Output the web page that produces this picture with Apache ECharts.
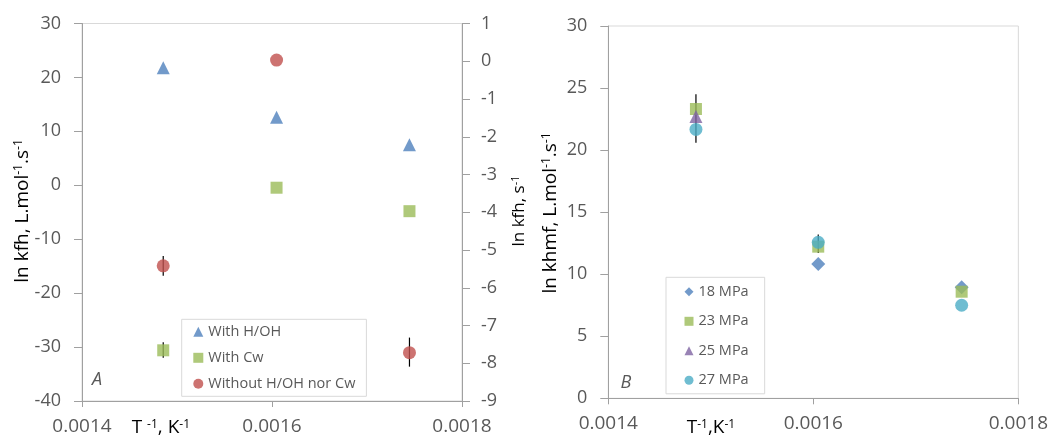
<!DOCTYPE html>
<html><head><meta charset="utf-8">
<script src="https://cdn.jsdelivr.net/npm/echarts@6/dist/echarts.min.js"></script>
<style>html,body{margin:0;padding:0;background:#fff}#c{width:1051px;height:439px}</style>
</head><body><div id="c"></div>
<script>
// ---- shared x values (1/T, K^-1) ----
const xInvT = [0.0014855, 0.0016048, 0.0017447];
const xTicks = [0.0014, 0.0016, 0.0018];

// ---- Panel A ----
const namesA = ['With H/OH', 'With Cw', 'Without H/OH nor Cw'];
const withHOH = [21.8, 12.6, 7.5];            // left axis
const withCw = [-30.6, -0.45, -4.8];          // left axis
const withoutHOHCw = [-5.42, 0.03, -7.72];    // right axis
const withCwErr = [[-32.0, -29.1], null, null];
const withoutErr = [[-5.68, -5.16], null, [-8.09, -7.32]];

// ---- Panel B ----
const namesB = ['18 MPa', '23 MPa', '25 MPa', '27 MPa'];
const mpa18 = [null, 10.82, 8.94];
const mpa23 = [23.31, 12.22, 8.59];
const mpa25 = [22.7, null, null];
const mpa27 = [21.67, 12.57, 7.5];
const errB = [[20.6, 24.5], [11.7, 13.2], null];

const FONT = '"Open Sans", "Noto Sans", sans-serif';
const GRAY = '#595959';
const AXIS = '#a0a0a0';
const BORDER = '#d9d9d9';

function pts(ys) {
  const out = [];
  ys.forEach((y, i) => { if (y !== null) out.push([xInvT[i], y]); });
  return out;
}
function errPts(errs) {
  const out = [];
  errs.forEach((e, i) => { if (e) out.push([xInvT[i], e[0], e[1]]); });
  return out;
}
function errSeries(errs, xi, yi) {
  return {
    type: 'custom', xAxisIndex: xi, yAxisIndex: yi, z: 1, silent: true,
    data: errPts(errs), encode: { x: 0, y: [1, 2] },
    renderItem: (params, api) => {
      const x = api.value(0), lo = api.value(1), hi = api.value(2);
      const p1 = api.coord([x, lo]), p2 = api.coord([x, hi]);
      return { type: 'line', shape: { x1: p1[0], y1: p1[1], x2: p2[0], y2: p2[1] },
               style: { stroke: '#000', lineWidth: 1.2 } };
    }
  };
}
function scat(name, ys, xi, yi, symbol, size, color) {
  return { type: 'scatter', name, xAxisIndex: xi, yAxisIndex: yi, z: 3,
           symbol, symbolSize: size, itemStyle: { color }, data: pts(ys) };
}
function xAx(gi) {
  return {
    type: 'value', gridIndex: gi, min: xTicks[0], max: xTicks[2], interval: xTicks[1] - xTicks[0],
    axisLine: { show: true, onZero: false, lineStyle: { color: AXIS } },
    axisTick: { show: true, inside: false, length: 6, lineStyle: { color: AXIS } },
    splitLine: { show: false },
    axisLabel: { formatter: v => v.toFixed(4), fontSize: 19, color: GRAY, fontFamily: FONT, margin: 16 }
  };
}
function yAx(gi, min, max, interval, pos) {
  return {
    type: 'value', gridIndex: gi, min, max, interval, position: pos,
    axisLine: { show: true, onZero: false, lineStyle: { color: AXIS } },
    axisTick: { show: true, inside: false, length: 8, lineStyle: { color: AXIS } },
    splitLine: { show: false },
    axisLabel: { fontSize: 18, color: GRAY, fontFamily: FONT, margin: pos === 'right' ? 19 : 21 }
  };
}
const supRich = (color, size, supSize) => ({
  a: { fontSize: size, color, fontFamily: FONT },
  s: { fontSize: supSize, color, fontFamily: FONT, verticalAlign: 'top', lineHeight: size }
});

const chart = echarts.init(document.getElementById('c'), null, { renderer: 'canvas' });
chart.setOption({
  animation: false,
  backgroundColor: '#fff',
  textStyle: { fontFamily: FONT },
  grid: [
    { left: 82, top: 23.5, width: 380, height: 377.5, show: true, borderColor: BORDER, borderWidth: 1, containLabel: false },
    { left: 608.3, top: 26, width: 412.4, height: 372.3, show: true, borderColor: BORDER, borderWidth: 1, containLabel: false }
  ],
  xAxis: [xAx(0), xAx(1)],
  yAxis: [yAx(0, -40, 30, 10, 'left'), yAx(0, -9, 1, 1, 'right'), yAx(1, 0, 30, 5, 'left')],
  legend: [
    {
      data: namesA, orient: 'vertical', left: 181.7, top: 319.3,
      padding: [5, 11, 5, 11.6], itemGap: 11, itemWidth: 10, itemHeight: 10,
      borderColor: BORDER, borderWidth: 1, backgroundColor: '#fff',
      textStyle: { fontSize: 14.5, color: GRAY, fontFamily: FONT }
    },
    {
      data: namesB, orient: 'vertical', left: 666, top: 277.3,
      padding: [7, 16, 6, 18.5], itemGap: 14.5, itemWidth: 9, itemHeight: 9,
      borderColor: BORDER, borderWidth: 1, backgroundColor: '#fff',
      textStyle: { fontSize: 14.5, color: GRAY, fontFamily: FONT }
    }
  ],
  series: [
    errSeries(withCwErr, 0, 0),
    errSeries(withoutErr, 0, 1),
    scat(namesA[0], withHOH, 0, 0, 'triangle', 13, '#4f81bd'),
    scat(namesA[1], withCw, 0, 0, 'rect', 12, '#9bbb59'),
    scat(namesA[2], withoutHOHCw, 0, 1, 'circle', 13, '#c0504d'),
    errSeries(errB, 1, 2),
    scat(namesB[0], mpa18, 1, 2, 'diamond', 14, '#4f81bd'),
    scat(namesB[1], mpa23, 1, 2, 'rect', 12, '#9bbb59'),
    scat(namesB[2], mpa25, 1, 2, 'triangle', 13, '#8064a2'),
    scat(namesB[3], mpa27, 1, 2, 'circle', 13, '#4bacc6')
  ],
  graphic: [
    { type: 'text', x: 22.5, y: 211, rotation: Math.PI / 2,
      style: { text: '{a|ln kfh, L.mol}{s|-1}{a|.s}{s|-1}', rich: supRich('#000', 19, 12), align: 'center', verticalAlign: 'middle' } },
    { type: 'text', x: 519, y: 211, rotation: Math.PI / 2,
      style: { text: '{a|ln kfh, s}{s|-1}', rich: supRich(GRAY, 17, 11), align: 'center', verticalAlign: 'middle' } },
    { type: 'text', x: 550.5, y: 213, rotation: Math.PI / 2,
      style: { text: '{a|ln khmf, L.mol}{s|-1}{a|.s}{s|-1}', rich: supRich('#000', 19, 12), align: 'center', verticalAlign: 'middle' } },
    { type: 'text', x: 131.7, y: 428,
      style: { text: '{a|T }{s|-1}{a|, K}{s|-1}', rich: supRich('#000', 19, 12), align: 'left', verticalAlign: 'middle' } },
    { type: 'text', x: 686.7, y: 428,
      style: { text: '{a|T}{s|-1}{a|,K}{s|-1}', rich: supRich('#000', 19, 12), align: 'left', verticalAlign: 'middle' } },
    { type: 'text', x: 92, y: 380,
      style: { text: 'A', font: 'italic 18px ' + FONT, fill: GRAY, align: 'left', verticalAlign: 'middle' } },
    { type: 'text', x: 620.5, y: 383,
      style: { text: 'B', font: 'italic 18px ' + FONT, fill: GRAY, align: 'left', verticalAlign: 'middle' } }
  ]
});
</script>
</body></html>
